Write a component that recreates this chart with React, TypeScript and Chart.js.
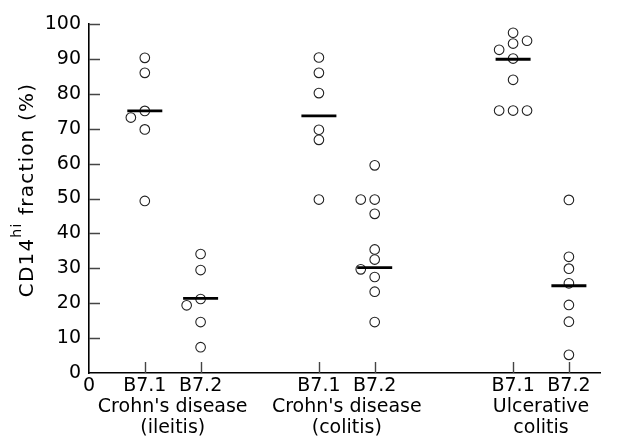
import React, { useEffect, useRef } from "react";
import { Chart, registerables } from "chart.js";

Chart.register(...registerables);

// Category positions on the x axis (B7.1 / B7.2 for each group)
const positions = [1, 2, 4.12, 5.12, 7.6, 8.6];
const tickLabels = ["B7.1", "B7.2", "B7.1", "B7.2", "B7.1", "B7.2"];
const groupLabels: string[][] = [
  ["Crohn's disease", "(ileitis)"],
  ["Crohn's disease", "(colitis)"],
  ["Ulcerative", "colitis"],
];

// Values (%) of CD14hi fraction per category
const ileitisB71 = [90.3, 86, 75.1, 73.2, 69.8, 49.3];
const ileitisB72 = [34.1, 29.5, 21.2, 19.4, 14.6, 7.4];
const colitisB71 = [90.4, 86, 80.2, 69.7, 66.8, 49.7];
const colitisB72 = [59.5, 49.7, 49.7, 45.6, 35.4, 32.5, 29.7, 27.5, 23.3, 14.6];
const ucB71 = [97.5, 95.2, 94.4, 92.6, 90.1, 84, 75.2, 75.2, 75.2];
const ucB72 = [49.6, 33.3, 29.9, 25.7, 19.5, 14.7, 5.2];

// side-by-side placement of overlapping points (-1 left, 0 centre, 1 right)
const ileitisB71Side = [0, 0, 0, -1, 0, 0];
const ileitisB72Side = [0, 0, 0, -1, 0, 0];
const colitisB71Side = [0, 0, 0, 0, 0, 0];
const colitisB72Side = [0, -1, 0, 0, 0, 0, -1, 0, 0, 0];
const ucB71Side = [0, 1, 0, -1, 0, 0, -1, 0, 1];
const ucB72Side = [0, 0, 0, 0, 0, 0, 0];

const medians = [75.1, 21.4, 73.7, 30.2, 89.9, 25.0];

const yTicks = [0, 10, 20, 30, 40, 50, 60, 70, 80, 90, 100];

const SIDE_STEP = 0.25;
const FONT = "'DejaVu Sans', sans-serif";

export default function App() {
  const ref = useRef<HTMLCanvasElement | null>(null);

  useEffect(() => {
    document.body.style.margin = "0";
    const canvas = ref.current;
    if (!canvas) return;

    const series = [
      [ileitisB71, ileitisB71Side],
      [ileitisB72, ileitisB72Side],
      [colitisB71, colitisB71Side],
      [colitisB72, colitisB72Side],
      [ucB71, ucB71Side],
      [ucB72, ucB72Side],
    ];
    const pointData: { x: number; y: number }[] = [];
    series.forEach(([vals, side], i) => {
      vals.forEach((v, j) => pointData.push({ x: positions[i] + side[j] * SIDE_STEP, y: v }));
    });
    const medianData = medians.map((m, i) => ({ x: positions[i], y: m }));

    // x ticks: 0, category ticks and group-label ticks (midpoints)
    const xTickList: { value: number; label: string | string[]; mark: boolean }[] = [
      { value: 0, label: "0", mark: false },
    ];
    positions.forEach((p, i) => xTickList.push({ value: p, label: tickLabels[i], mark: true }));
    groupLabels.forEach((g, i) =>
      xTickList.push({
        value: (positions[2 * i] + positions[2 * i + 1]) / 2,
        label: ["", ...g],
        mark: false,
      })
    );
    xTickList.sort((a, b) => a.value - b.value);

    const innerTicks = {
      id: "innerTicks",
      afterDatasetsDraw(chart: any) {
        const ctx = chart.ctx;
        const xs = chart.scales.x;
        const ys = chart.scales.y;
        ctx.save();
        ctx.strokeStyle = "#444";
        ctx.lineWidth = 1.4;
        ctx.beginPath();
        xTickList.forEach((t) => {
          if (!t.mark) return;
          const px = Math.round(xs.getPixelForValue(t.value)) + 0.5;
          ctx.moveTo(px, ys.bottom);
          ctx.lineTo(px, ys.bottom - 11);
        });
        yTicks.forEach((v) => {
          if (v === 0) return;
          const py = Math.round(ys.getPixelForValue(v)) + 0.5;
          ctx.moveTo(xs.left, py);
          ctx.lineTo(xs.left + 11, py);
        });
        ctx.stroke();
        ctx.restore();
      },
    };

    const yTitle = {
      id: "yTitle",
      afterDraw(chart: any) {
        const ctx = chart.ctx;
        ctx.save();
        const spacing = "1.2px";
        (ctx as any).letterSpacing = spacing;
        const main = "20px " + FONT;
        const sup = "14px " + FONT;
        ctx.font = main;
        const w1 = ctx.measureText("CD14").width;
        const w3 = ctx.measureText(" fraction (%)").width;
        ctx.font = sup;
        const w2 = ctx.measureText("hi").width;
        const total = w1 + w2 + w3;
        const cy = 190;
        ctx.translate(33, cy + total / 2);
        ctx.rotate(-Math.PI / 2);
        ctx.fillStyle = "#000";
        ctx.textBaseline = "alphabetic";
        ctx.textAlign = "left";
        ctx.font = main;
        ctx.fillText("CD14", 0, 0);
        ctx.font = sup;
        ctx.fillText("hi", w1, -12);
        ctx.font = main;
        ctx.fillText(" fraction (%)", w1 + w2, 0);
        (ctx as any).letterSpacing = "0px";
        ctx.restore();
      },
    };

    const chart = new Chart(canvas, {
      type: "scatter",
      data: {
        datasets: [
          {
            data: medianData,
            pointStyle: "line",
            pointRadius: 17.5,
            borderColor: "#000",
            borderWidth: 2.8,
            order: 0,
          } as any,
          {
            data: pointData,
            pointStyle: "circle",
            pointRadius: 4.8,
            borderColor: "#222",
            backgroundColor: "rgba(255,255,255,0)",
            borderWidth: 1.1,
            order: 1,
          },
        ],
      },
      options: {
        animation: false,
        responsive: false,
        events: [],
        layout: { padding: { top: 24, right: 0, left: 0, bottom: 0 } },
        plugins: { legend: { display: false }, tooltip: { enabled: false } },
        scales: {
          x: {
            type: "linear",
            min: 0,
            max: 9.17,
            grid: { display: false, drawTicks: false },
            border: { display: true, color: "#000", width: 1.6 },
            afterBuildTicks: (scale: any) => {
              scale.ticks = xTickList.map((t) => ({ value: t.value }));
            },
            afterFit: (scale: any) => {
              scale.height = 63;
            },
            ticks: {
              autoSkip: false,
              maxRotation: 0,
              minRotation: 0,
              padding: 3,
              color: "#000",
              font: { family: FONT, size: 19, lineHeight: 21 / 19 },
              callback: (_v: any, i: number) => xTickList[i].label,
            },
          },
          y: {
            type: "linear",
            min: 0,
            max: 100,
            grid: { display: false, drawTicks: false },
            border: { display: true, color: "#000", width: 1.6 },
            afterBuildTicks: (scale: any) => {
              scale.ticks = yTicks.map((v) => ({ value: v }));
            },
            afterFit: (scale: any) => {
              scale.width = 89;
            },
            ticks: {
              padding: 8,
              color: "#000",
              font: { family: FONT, size: 19 },
            },
          },
        },
      },
      plugins: [innerTicks, yTitle],
    });

    return () => chart.destroy();
  }, []);

  return (
    <div style={{ width: 621, height: 436, background: "#fff" }}>
      <canvas ref={ref} width={621} height={436} style={{ display: "block" }} />
    </div>
  );
}
